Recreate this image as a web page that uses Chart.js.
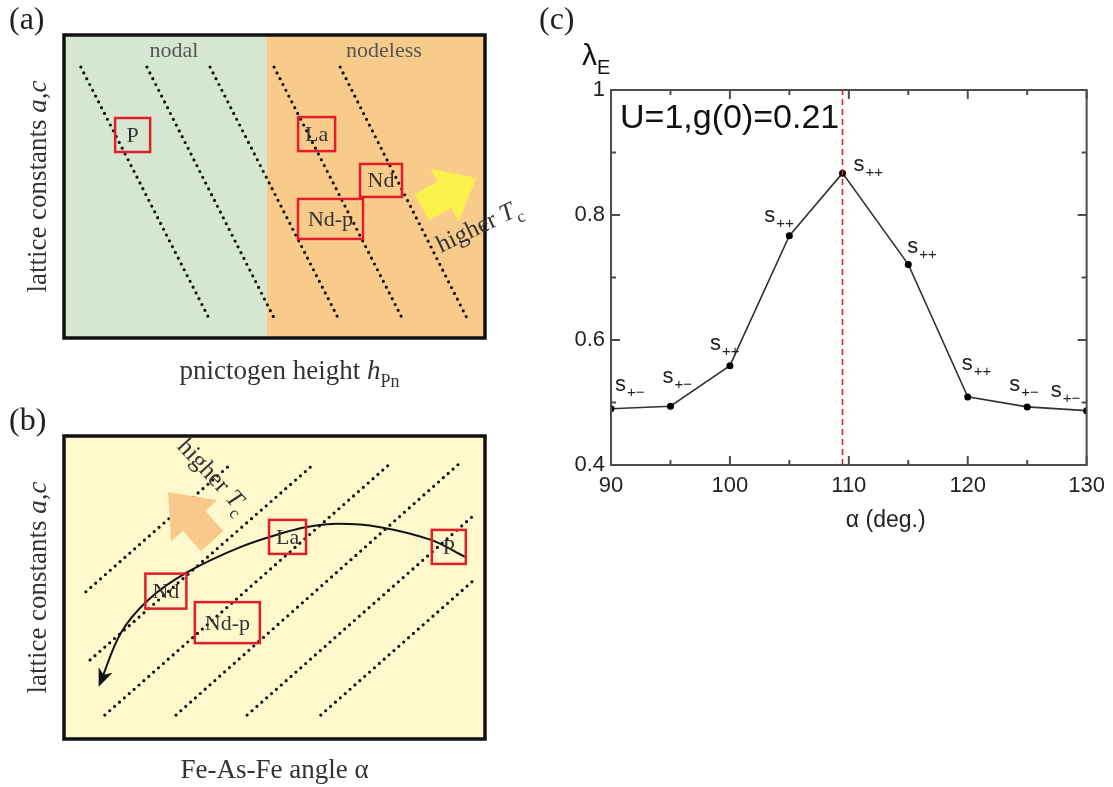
<!DOCTYPE html>
<html>
<head>
<meta charset="utf-8">
<script src="https://cdn.jsdelivr.net/npm/chart.js"></script>
<style>
  body { margin: 0; background: #fff; width: 1113px; height: 787px; overflow: hidden; position: relative; }
  canvas { position: absolute; }
</style>
</head>
<body>
<canvas id="panelA" width="560" height="400" style="left:0;top:0"></canvas>
<canvas id="panelB" width="560" height="392" style="left:0;top:395px"></canvas>
<canvas id="panelC" width="583" height="560" style="left:530px;top:0"></canvas>
<script>
// ---- panel (c) data: pairing eigenvalue vs Fe-As-Fe angle
const alphaDeg = [90, 95, 100, 105, 109.47, 115, 120, 125, 130];
const lambdaE = [0.490, 0.494, 0.559, 0.767, 0.867, 0.721, 0.509, 0.493, 0.487];
const pairLabels = ['+−', '+−', '++', '++', '++', '++', '++', '+−', '+−'];
const xTicks = [90, 100, 110, 120, 130];
const yTicks = [0.4, 0.6, 0.8, 1];
const tetraAngle = 109.47;

// ---- panel (a) schematic, in frame units 0..100
const aBoundary = 48.2;
const aRegions = ['nodal', 'nodeless'];
const aRegionX = [26.1, 76.0];
const aLineTopX = [4.0, 19.7, 34.7, 49.9, 65.6];
const aLineBotX = [34.4, 49.9, 65.1, 80.3, 95.7];
const aLineTopY = 89.4, aLineBotY = 6.6;
const aSamples = ['P', 'La', 'Nd', 'Nd-p'];
const aSampleX = [16.3, 60.0, 75.3, 63.3];
const aSampleY = [67.0, 67.3, 52.0, 39.3];
const aArrowTail = [85.0, 43.2], aArrowTip = [97.9, 52.8];
const aTcLabel = [98.5, 37.0];

// ---- panel (b) schematic, in frame units 0..100
const bLineStartX = [5.2, 6.2, 9.7, 26.6, 43.5, 61.0];
const bLineStartY = [48.6, 26.1, 7.9, 7.9, 7.9, 7.9];
const bLineEndX = [39.7, 59.4, 77.4, 93.8, 97.4, 97.4];
const bLineEndY = [90.8, 90.8, 90.8, 90.8, 73.9, 52.5];
const bArcX = [95.2, 87.2, 74.8, 65.1, 57.7, 52.7, 42.0, 29.0, 20.0, 13.5, 8.6];
const bArcY = [60.1, 65.7, 70.0, 71.0, 70.0, 68.3, 63.4, 54.8, 45.9, 35.0, 18.5];
const bSamples = ['Nd', 'Nd-p', 'La', 'P'];
const bSampleX = [24.2, 38.8, 53.1, 91.4];
const bSampleY = [48.8, 38.4, 66.7, 63.4];
const bArrowTail = [35.2, 65.3], bArrowTip = [24.7, 81.5];
const bTcLabel = [35.5, 87.0];

// layout bits (px)
const aBoxW = [35, 37, 42, 65], aBoxH = [34, 34, 33, 40];
const bBoxW = [41, 65, 37, 34], bBoxH = [35, 41, 34, 34];
const labelDx = [4, -8, -20, -25, 11, -1, -6, -18, -36];
const labelDy = [-18, -23, -16, -14, -2, -11, -27, -16, -14];

const SERIF = '"Liberation Serif", "DejaVu Serif", serif';
const SANS = '"Liberation Sans", Arial, sans-serif';
const INK = '#333';

function richText(ctx, parts, x, y, o) {
  const size = o.size, fam = o.family || SERIF;
  ctx.save();
  ctx.translate(x, y);
  ctx.rotate(o.angle || 0);
  ctx.fillStyle = o.color || INK;
  ctx.textAlign = 'left';
  ctx.textBaseline = 'alphabetic';
  const fonts = parts.map(p => (p.it ? 'italic ' : '') + Math.round(p.sub ? size * 0.66 : size) + 'px ' + fam);
  const widths = parts.map((p, i) => { ctx.font = fonts[i]; return ctx.measureText(p.t).width; });
  const total = widths.reduce((a, b) => a + b, 0);
  let cx = o.align === 'center' ? -total / 2 : 0;
  const base = o.mid ? size * 0.32 : 0;
  parts.forEach((p, i) => {
    ctx.font = fonts[i];
    ctx.fillText(p.t, cx, base + (p.sub ? size * 0.3 : 0));
    cx += widths[i];
  });
  ctx.restore();
}

function fatArrow(ctx, x0, y0, x1, y1, shaftW, headW, headL, color) {
  const L = Math.hypot(x1 - x0, y1 - y0);
  const dx = (x1 - x0) / L, dy = (y1 - y0) / L, nx = -dy, ny = dx;
  const bx = x1 - dx * headL, by = y1 - dy * headL;
  ctx.save();
  ctx.fillStyle = color;
  ctx.beginPath();
  ctx.moveTo(x0 + nx * shaftW / 2, y0 + ny * shaftW / 2);
  ctx.lineTo(bx + nx * shaftW / 2, by + ny * shaftW / 2);
  ctx.lineTo(bx + nx * headW / 2, by + ny * headW / 2);
  ctx.lineTo(x1, y1);
  ctx.lineTo(bx - nx * headW / 2, by - ny * headW / 2);
  ctx.lineTo(bx - nx * shaftW / 2, by - ny * shaftW / 2);
  ctx.lineTo(x0 - nx * shaftW / 2, y0 - ny * shaftW / 2);
  ctx.closePath();
  ctx.fill();
  ctx.restore();
}

function drawBoxes(ctx, x, y, names, xs, ys, ws, hs) {
  ctx.save();
  ctx.strokeStyle = '#e01f2a';
  ctx.lineWidth = 2.5;
  names.forEach((n, i) => {
    const cx = x.getPixelForValue(xs[i]), cy = y.getPixelForValue(ys[i]);
    ctx.strokeRect(cx - ws[i] / 2, cy - hs[i] / 2, ws[i], hs[i]);
    richText(ctx, [{ t: n }], cx, cy, { size: 22, align: 'center', mid: true });
  });
  ctx.restore();
}

function frame(ctx, ca) {
  ctx.save();
  ctx.strokeStyle = '#111';
  ctx.lineWidth = 3.5;
  ctx.strokeRect(ca.left, ca.top, ca.width, ca.height);
  ctx.restore();
}

const dotted = { showLine: true, borderColor: '#111', borderWidth: 3.2, borderDash: [0, 6.5], borderCapStyle: 'round', pointRadius: 0 };
const hidden = { type: 'linear', min: 0, max: 100, display: false };
const latticeLabel = [{ t: 'lattice constants ' }, { t: 'a,c', it: true }];
const higherTc = [{ t: 'higher ' }, { t: 'T', it: true }, { t: 'c', sub: true }];

// Panel (a)
new Chart(document.getElementById('panelA'), {
  type: 'scatter',
  data: {
    datasets: aLineTopX.map((tx, i) => ({
      ...dotted,
      data: [{ x: tx, y: aLineTopY }, { x: aLineBotX[i], y: aLineBotY }]
    }))
  },
  options: {
    responsive: false, animation: false, events: [],
    layout: { padding: { left: 64, top: 35, right: 75, bottom: 62 } },
    scales: { x: hidden, y: hidden },
    plugins: { legend: { display: false }, tooltip: { enabled: false } }
  },
  plugins: [{
    id: 'schematicA',
    beforeDatasetsDraw(chart) {
      const { ctx, chartArea: ca, scales: { x } } = chart;
      const bx = x.getPixelForValue(aBoundary);
      ctx.save();
      ctx.fillStyle = '#d5e7d0';
      ctx.fillRect(ca.left, ca.top, bx - ca.left, ca.height);
      ctx.fillStyle = '#f9cb8b';
      ctx.fillRect(bx, ca.top, ca.right - bx, ca.height);
      ctx.restore();
    },
    afterDatasetsDraw(chart) {
      const { ctx, chartArea: ca, scales: { x, y } } = chart;
      fatArrow(ctx, x.getPixelForValue(aArrowTail[0]), y.getPixelForValue(aArrowTail[1]),
        x.getPixelForValue(aArrowTip[0]), y.getPixelForValue(aArrowTip[1]), 30, 60, 36, '#fcf04b');
      drawBoxes(ctx, x, y, aSamples, aSampleX, aSampleY, aBoxW, aBoxH);
      aRegions.forEach((r, i) => richText(ctx, [{ t: r }], x.getPixelForValue(aRegionX[i]), ca.top + 22,
        { size: 22, align: 'center', color: '#555' }));
      frame(ctx, ca);
      richText(ctx, higherTc, x.getPixelForValue(aTcLabel[0]), y.getPixelForValue(aTcLabel[1]),
        { size: 25, align: 'center', angle: -0.45, mid: true });
      richText(ctx, latticeLabel, ca.left - 18, (ca.top + ca.bottom) / 2, { size: 27, align: 'center', angle: -Math.PI / 2 });
      richText(ctx, [{ t: 'pnictogen height ' }, { t: 'h', it: true }, { t: 'Pn', sub: true }],
        (ca.left + ca.right) / 2 + 15, ca.bottom + 41, { size: 27, align: 'center' });
      richText(ctx, [{ t: '(a)' }], 9, 29, { size: 32, color: '#222' });
    }
  }]
});

// Panel (b)
new Chart(document.getElementById('panelB'), {
  type: 'scatter',
  data: {
    datasets: [
      {
        showLine: true, borderColor: '#111', borderWidth: 2, pointRadius: 0, tension: 0.35,
        data: bArcX.map((v, i) => ({ x: v, y: bArcY[i] }))
      },
      ...bLineStartX.map((sx, i) => ({
        ...dotted,
        data: [{ x: sx, y: bLineStartY[i] }, { x: bLineEndX[i], y: bLineEndY[i] }]
      }))
    ]
  },
  options: {
    responsive: false, animation: false, events: [],
    layout: { padding: { left: 64, top: 41, right: 75, bottom: 48 } },
    scales: { x: hidden, y: hidden },
    plugins: { legend: { display: false }, tooltip: { enabled: false } }
  },
  plugins: [{
    id: 'schematicB',
    beforeDatasetsDraw(chart) {
      const { ctx, chartArea: ca } = chart;
      ctx.save();
      ctx.fillStyle = '#fef8cc';
      ctx.fillRect(ca.left, ca.top, ca.width, ca.height);
      ctx.restore();
    },
    afterDatasetsDraw(chart) {
      const { ctx, chartArea: ca, scales: { x, y } } = chart;
      // arrow head at the end of the arc
      const pts = chart.getDatasetMeta(0).data;
      const tip = pts[pts.length - 1], prev = pts[pts.length - 2];
      const ang = Math.atan2(tip.y - prev.y, tip.x - prev.x);
      ctx.save();
      ctx.translate(tip.x, tip.y);
      ctx.rotate(ang);
      ctx.fillStyle = '#111';
      ctx.beginPath();
      ctx.moveTo(4, 0);
      ctx.lineTo(-14, -7.5);
      ctx.lineTo(-9, 0);
      ctx.lineTo(-14, 7.5);
      ctx.closePath();
      ctx.fill();
      ctx.restore();

      fatArrow(ctx, x.getPixelForValue(bArrowTail[0]), y.getPixelForValue(bArrowTail[1]),
        x.getPixelForValue(bArrowTip[0]), y.getPixelForValue(bArrowTip[1]), 30, 62, 39, '#f9c98b');
      drawBoxes(ctx, x, y, bSamples, bSampleX, bSampleY, bBoxW, bBoxH);
      frame(ctx, ca);
      richText(ctx, higherTc, x.getPixelForValue(bTcLabel[0]), y.getPixelForValue(bTcLabel[1]),
        { size: 25, align: 'center', angle: 0.82, mid: true });
      richText(ctx, latticeLabel, ca.left - 18, (ca.top + ca.bottom) / 2, { size: 27, align: 'center', angle: -Math.PI / 2 });
      richText(ctx, [{ t: 'Fe-As-Fe angle α' }], (ca.left + ca.right) / 2, ca.bottom + 39, { size: 27, align: 'center' });
      richText(ctx, [{ t: '(b)' }], 9, 35, { size: 32, color: '#222' });
    }
  }]
});

// Panel (c)
const xMinorStep = 5, yMinorStep = 0.1;
new Chart(document.getElementById('panelC'), {
  type: 'scatter',
  data: {
    datasets: [
      {
        showLine: true, borderColor: '#ea1d25', borderWidth: 1.6, borderDash: [6, 4], pointRadius: 0,
        data: [{ x: tetraAngle, y: yTicks[0] }, { x: tetraAngle, y: yTicks[yTicks.length - 1] }]
      },
      {
        showLine: true, borderColor: '#333', borderWidth: 1.6, pointRadius: 3.5,
        pointBackgroundColor: '#000', pointBorderWidth: 0,
        data: alphaDeg.map((a, i) => ({ x: a, y: lambdaE[i] }))
      }
    ]
  },
  options: {
    responsive: false, animation: false, events: [],
    layout: { padding: { left: 41, top: 90, right: 26, bottom: 55 } },
    scales: {
      x: {
        type: 'linear', min: xTicks[0], max: xTicks[xTicks.length - 1],
        afterBuildTicks: s => { s.ticks = xTicks.map(v => ({ value: v })); },
        afterFit: s => { s.height = 40; },
        grid: { display: false, drawTicks: false }, border: { display: false },
        ticks: { font: { family: SANS, size: 22 }, color: '#222', padding: 8, callback: v => String(v) }
      },
      y: {
        type: 'linear', min: yTicks[0], max: yTicks[yTicks.length - 1],
        afterBuildTicks: s => { s.ticks = yTicks.map(v => ({ value: v })); },
        afterFit: s => { s.width = 40; },
        grid: { display: false, drawTicks: false }, border: { display: false },
        ticks: { font: { family: SANS, size: 22 }, color: '#222', padding: 6, callback: v => v === 1 ? '1' : v.toFixed(1) }
      }
    },
    plugins: { legend: { display: false }, tooltip: { enabled: false } }
  },
  plugins: [{
    id: 'frameAndLabels',
    afterDatasetsDraw(chart) {
      const { ctx, chartArea: ca, scales: { x, y } } = chart;
      ctx.save();
      ctx.strokeStyle = '#4d4d4d';
      ctx.lineWidth = 2;
      ctx.strokeRect(ca.left, ca.top, ca.width, ca.height);
      ctx.beginPath();
      const nx = Math.round((x.max - x.min) / xMinorStep);
      for (let k = 0; k <= nx; k++) {
        const px = x.getPixelForValue(x.min + k * xMinorStep), len = k % 2 ? 5 : 9;
        ctx.moveTo(px, ca.bottom); ctx.lineTo(px, ca.bottom - len);
        ctx.moveTo(px, ca.top); ctx.lineTo(px, ca.top + len);
      }
      const ny = Math.round((y.max - y.min) / yMinorStep);
      for (let k = 0; k <= ny; k++) {
        const py = y.getPixelForValue(y.min + k * yMinorStep), len = k % 2 ? 5 : 9;
        ctx.moveTo(ca.left, py); ctx.lineTo(ca.left + len, py);
        ctx.moveTo(ca.right, py); ctx.lineTo(ca.right - len, py);
      }
      ctx.stroke();

      // s_{+-} / s_{++} labels next to each point
      ctx.fillStyle = '#222';
      ctx.textBaseline = 'alphabetic';
      ctx.textAlign = 'left';
      chart.getDatasetMeta(1).data.forEach((p, i) => {
        const lx = p.x + labelDx[i], ly = p.y + labelDy[i];
        ctx.font = '22px ' + SANS;
        ctx.fillText('s', lx, ly);
        const w = ctx.measureText('s').width;
        ctx.font = '15px ' + SANS;
        ctx.fillText(pairLabels[i], lx + w + 1, ly + 6);
      });
      ctx.restore();

      richText(ctx, [{ t: 'U=1,g(0)=0.21' }], ca.left + 9, ca.top + 38, { size: 34, family: SANS, color: '#111' });
      richText(ctx, [{ t: 'λ' }, { t: 'E', sub: true }], ca.left - 29, ca.top - 25, { size: 30, family: SANS, color: '#111' });
      richText(ctx, [{ t: 'α (deg.)' }], (ca.left + ca.right) / 2 - 3, ca.bottom + 62, { size: 23, family: SANS, color: '#222' });
      richText(ctx, [{ t: '(c)' }], 9, 29, { size: 32, color: '#222' });
    }
  }]
});
</script>
</body>
</html>
